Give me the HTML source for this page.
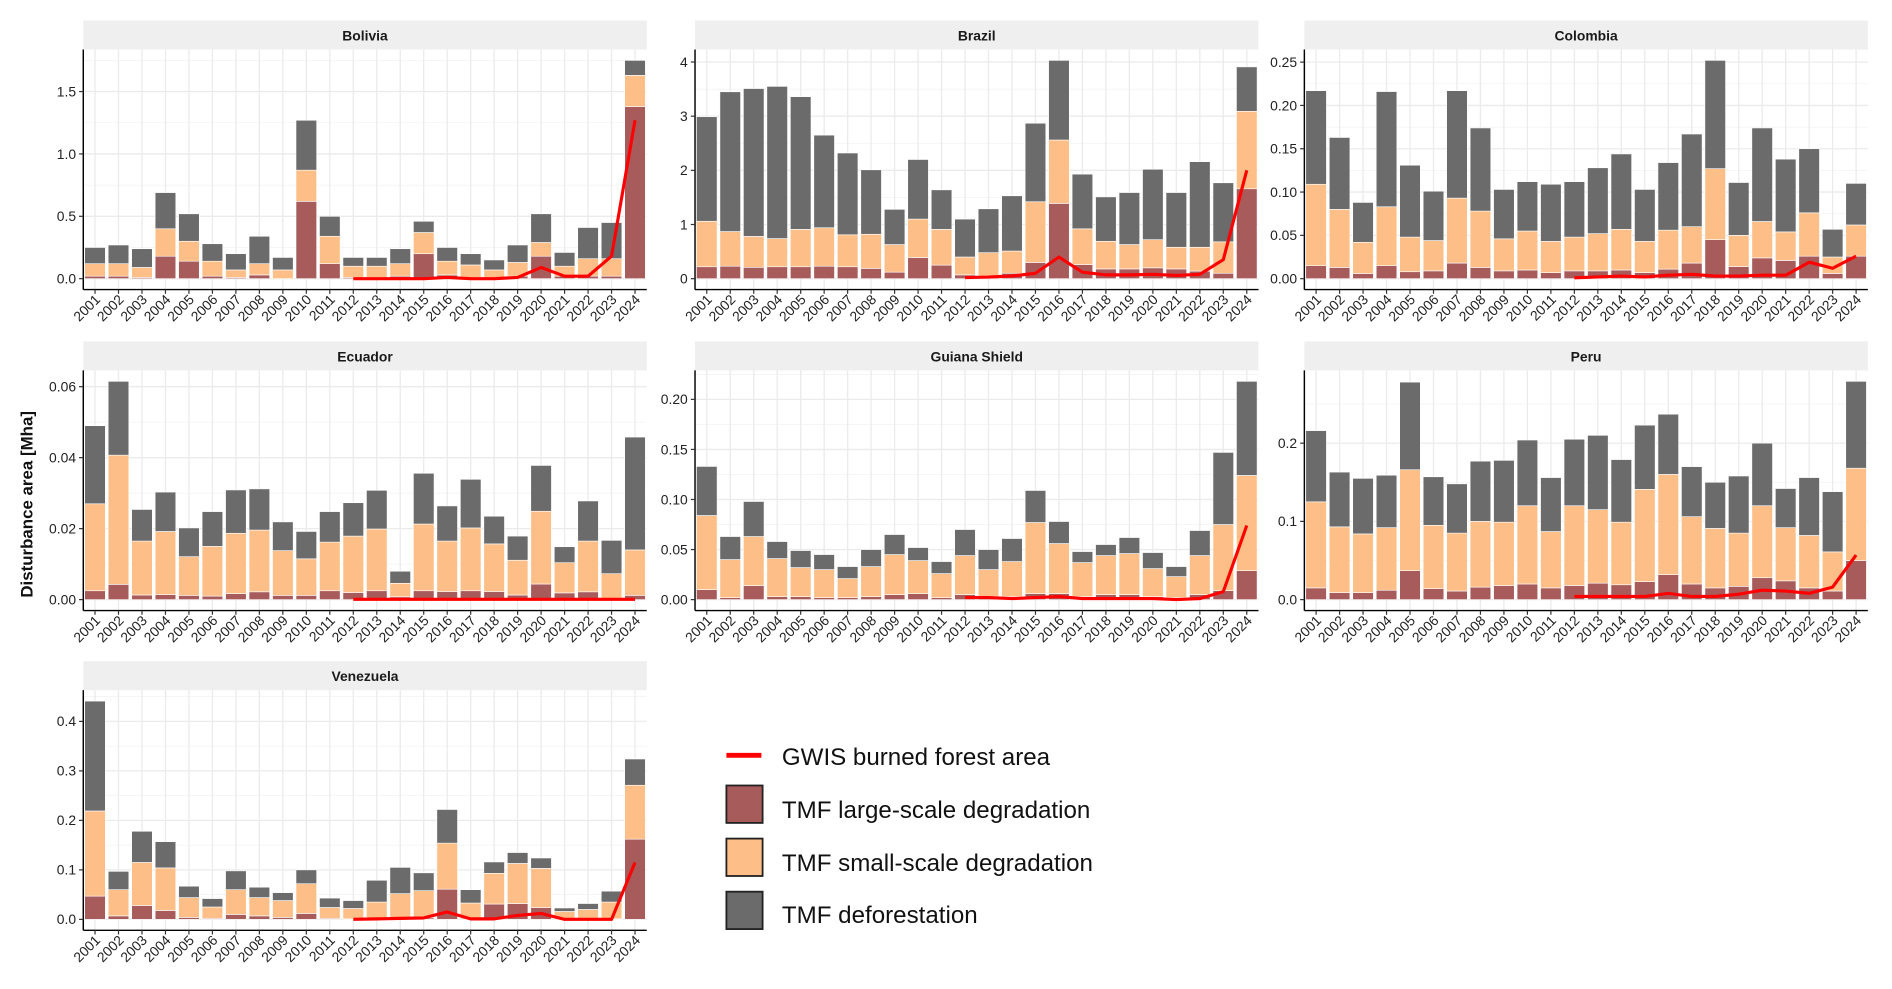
<!DOCTYPE html>
<html><head><meta charset="utf-8"><style>
html,body{margin:0;padding:0;background:#fff;}
svg{display:block;font-family:"Liberation Sans",Arial,sans-serif;}
</style></head><body>
<svg id="fig" width="1892" height="989" viewBox="0 0 1568 819.66" xmlns="http://www.w3.org/2000/svg">
<text transform="translate(27,418) rotate(-90)" text-anchor="middle" font-size="14" font-weight="bold" fill="#111">Disturbance area [Mha]</text>
<g id="panels"></g>
<g>
 <line x1="602" y1="626" x2="631" y2="626" stroke="#ff0000" stroke-width="4"/>
 <text x="648" y="634" font-size="20" fill="#111">GWIS burned forest area</text>
 <rect x="602" y="651" width="30" height="31" fill="#a85b5b" stroke="#222" stroke-width="1.5"/>
 <text x="648" y="678" font-size="20" fill="#111">TMF large-scale degradation</text>
 <rect x="602" y="695" width="30" height="31" fill="#fdbf87" stroke="#222" stroke-width="1.5"/>
 <text x="648" y="722" font-size="20" fill="#111">TMF small-scale degradation</text>
 <rect x="602" y="739" width="30" height="31" fill="#6b6b6b" stroke="#222" stroke-width="1.5"/>
 <text x="648" y="765" font-size="20" fill="#111">TMF deforestation</text>
</g>
</svg>
<script>
const years = ["2001","2002","2003","2004","2005","2006","2007","2008","2009","2010","2011","2012","2013","2014","2015","2016","2017","2018","2019","2020","2021","2022","2023","2024"];
const lineYears = ["2012","2013","2014","2015","2016","2017","2018","2019","2020","2021","2022","2023","2024"];
const regionNames = ["Bolivia","Brazil","Colombia","Ecuador","Guiana Shield","Peru","Venezuela"];

// cumulative stack tops: large-scale, large+small, total (incl. deforestation)
const boliviaLarge = [0.02,0.02,0.01,0.18,0.14,0.02,0.01,0.03,0.00,0.62,0.12,0.01,0.01,0.02,0.20,0.03,0.01,0.01,0.02,0.18,0.02,0.02,0.02,1.38];
const boliviaSmallTop = [0.12,0.12,0.09,0.40,0.30,0.14,0.07,0.12,0.07,0.87,0.34,0.10,0.10,0.12,0.37,0.14,0.11,0.07,0.13,0.29,0.10,0.16,0.16,1.63];
const boliviaTotal = [0.25,0.27,0.24,0.69,0.52,0.28,0.20,0.34,0.17,1.27,0.50,0.17,0.17,0.24,0.46,0.25,0.20,0.15,0.27,0.52,0.21,0.41,0.45,1.75];
const boliviaGwis = [0,0,0,0,0.01,0,0,0.01,0.09,0.02,0.02,0.18,1.27];

const brazilLarge = [0.22,0.23,0.21,0.22,0.22,0.23,0.22,0.19,0.12,0.39,0.25,0.07,0.05,0.10,0.30,1.39,0.26,0.18,0.18,0.20,0.18,0.14,0.10,1.66];
const brazilSmallTop = [1.06,0.87,0.78,0.74,0.91,0.94,0.81,0.82,0.63,1.10,0.91,0.40,0.48,0.51,1.42,2.56,0.92,0.69,0.63,0.72,0.58,0.58,0.68,3.09];
const brazilTotal = [2.99,3.45,3.51,3.55,3.36,2.65,2.32,2.01,1.28,2.20,1.64,1.10,1.29,1.53,2.87,4.03,1.93,1.51,1.59,2.02,1.59,2.16,1.77,3.91];
const brazilGwis = [0.02,0.03,0.05,0.10,0.40,0.12,0.07,0.07,0.08,0.06,0.08,0.35,2.00];

const colombiaLarge = [0.015,0.013,0.006,0.015,0.008,0.009,0.018,0.013,0.009,0.010,0.007,0.009,0.009,0.010,0.007,0.011,0.018,0.045,0.014,0.024,0.021,0.026,0.006,0.026];
const colombiaSmallTop = [0.109,0.080,0.042,0.083,0.048,0.044,0.093,0.078,0.046,0.055,0.043,0.048,0.052,0.057,0.043,0.056,0.060,0.127,0.050,0.066,0.054,0.076,0.025,0.062];
const colombiaTotal = [0.217,0.163,0.088,0.216,0.131,0.101,0.217,0.174,0.103,0.112,0.109,0.112,0.128,0.144,0.103,0.134,0.167,0.252,0.111,0.174,0.138,0.150,0.057,0.110];
const colombiaGwis = [0.001,0.002,0.003,0.002,0.004,0.005,0.003,0.003,0.004,0.004,0.019,0.012,0.026];

const ecuadorLarge = [0.0025,0.0043,0.0013,0.0014,0.0012,0.0010,0.0017,0.0022,0.0012,0.0012,0.0025,0.0020,0.0025,0.0008,0.0025,0.0023,0.0025,0.0023,0.0013,0.0044,0.0019,0.0022,0.0003,0.0012];
const ecuadorSmallTop = [0.0270,0.0407,0.0165,0.0192,0.0121,0.0150,0.0187,0.0196,0.0138,0.0115,0.0162,0.0179,0.0199,0.0046,0.0213,0.0165,0.0202,0.0157,0.0111,0.0249,0.0104,0.0165,0.0073,0.0140];
const ecuadorTotal = [0.0490,0.0615,0.0254,0.0303,0.0202,0.0248,0.0309,0.0312,0.0219,0.0192,0.0248,0.0273,0.0308,0.0080,0.0356,0.0264,0.0339,0.0235,0.0179,0.0378,0.0149,0.0278,0.0167,0.0458];
const ecuadorGwis = [0.0001,0.0001,0.0001,0.0001,0.0001,0.0001,0.0001,0.0001,0.0001,0.0001,0.0001,0.0001,0.0001];

const guianaLarge = [0.010,0.002,0.014,0.003,0.003,0.002,0.002,0.003,0.005,0.006,0.002,0.005,0.003,0.003,0.006,0.006,0.003,0.005,0.005,0.003,0.002,0.005,0.009,0.029];
const guianaSmallTop = [0.084,0.040,0.063,0.041,0.032,0.030,0.021,0.033,0.045,0.039,0.026,0.044,0.030,0.038,0.077,0.056,0.037,0.044,0.046,0.031,0.023,0.044,0.075,0.124];
const guianaTotal = [0.133,0.063,0.098,0.058,0.049,0.045,0.033,0.050,0.065,0.052,0.038,0.070,0.050,0.061,0.109,0.078,0.048,0.055,0.062,0.047,0.033,0.069,0.147,0.218];
const guianaGwis = [0.002,0.002,0.001,0.002,0.003,0.001,0.001,0.001,0.001,0.000,0.001,0.008,0.074];

const peruLarge = [0.015,0.009,0.009,0.012,0.037,0.014,0.011,0.016,0.018,0.020,0.015,0.018,0.021,0.019,0.023,0.032,0.020,0.015,0.017,0.028,0.024,0.015,0.011,0.050];
const peruSmallTop = [0.125,0.093,0.084,0.092,0.166,0.095,0.085,0.100,0.099,0.120,0.087,0.120,0.115,0.099,0.141,0.160,0.106,0.091,0.085,0.120,0.092,0.082,0.061,0.168];
const peruTotal = [0.216,0.163,0.155,0.159,0.278,0.157,0.148,0.177,0.178,0.204,0.156,0.205,0.210,0.179,0.223,0.237,0.170,0.150,0.158,0.200,0.142,0.156,0.138,0.279];
const peruGwis = [0.004,0.004,0.004,0.004,0.008,0.004,0.004,0.007,0.012,0.011,0.008,0.016,0.057];

const venezuelaLarge = [0.047,0.007,0.028,0.018,0.004,0.002,0.010,0.007,0.004,0.012,0.002,0.001,0.002,0.002,0.003,0.061,0.002,0.031,0.032,0.024,0.002,0.001,0.001,0.162];
const venezuelaSmallTop = [0.219,0.060,0.115,0.104,0.044,0.025,0.060,0.044,0.038,0.072,0.024,0.022,0.035,0.052,0.058,0.154,0.033,0.093,0.113,0.103,0.016,0.020,0.035,0.271];
const venezuelaTotal = [0.441,0.097,0.178,0.157,0.067,0.042,0.098,0.065,0.054,0.100,0.043,0.038,0.079,0.105,0.094,0.222,0.060,0.116,0.135,0.124,0.023,0.032,0.057,0.324];
const venezuelaGwis = [0,0.001,0.002,0.003,0.015,0.001,0.001,0.008,0.012,0,0,0,0.115];

const boliviaTicks = ["0.0","0.5","1.0","1.5"];
const brazilTicks = ["0","1","2","3","4"];
const colombiaTicks = ["0.00","0.05","0.10","0.15","0.20","0.25"];
const ecuadorTicks = ["0.00","0.02","0.04","0.06"];
const guianaTicks = ["0.00","0.05","0.10","0.15","0.20"];
const peruTicks = ["0.0","0.1","0.2"];
const venezuelaTicks = ["0.0","0.1","0.2","0.3","0.4"];

const NS = "http://www.w3.org/2000/svg";
const root = document.getElementById("panels");
function mk(tag, attrs, parent){
  const e = document.createElementNS(NS, tag);
  for (const k in attrs) e.setAttribute(k, attrs[k]);
  parent.appendChild(e);
  return e;
}
const cols = [69, 576, 1081];
const rows = [17, 283, 548];
const PW = 467;
const panels = [
  [boliviaLarge, boliviaSmallTop, boliviaTotal, boliviaGwis, boliviaTicks, 0, 0],
  [brazilLarge, brazilSmallTop, brazilTotal, brazilGwis, brazilTicks, 1, 0],
  [colombiaLarge, colombiaSmallTop, colombiaTotal, colombiaGwis, colombiaTicks, 2, 0],
  [ecuadorLarge, ecuadorSmallTop, ecuadorTotal, ecuadorGwis, ecuadorTicks, 0, 1],
  [guianaLarge, guianaSmallTop, guianaTotal, guianaGwis, guianaTicks, 1, 1],
  [peruLarge, peruSmallTop, peruTotal, peruGwis, peruTicks, 2, 1],
  [venezuelaLarge, venezuelaSmallTop, venezuelaTotal, venezuelaGwis, venezuelaTicks, 0, 2]
];
panels.forEach((p, pi) => {
  const [large, smallTop, total, gwis, ticks, c, r] = p;
  const x0 = cols[c], top = rows[r];
  const py0 = top + 24, py1 = top + 223;
  const g = mk("g", {}, root);
  
  
  const strip = mk("rect", {x:x0, y:top, width:PW, height:24, fill:"#efefef"}, g);
  
  
  const st = mk("text", {x:x0+PW/2, y:top+16.5, "text-anchor":"middle", "font-size":"11.5", "font-weight":"bold", fill:"#1a1a1a"}, g);
  st.textContent = regionNames[pi];
  
  
  const tickVals = ticks.map(Number);
  let maxV = Math.max(...total, ...gwis, 0);
  const lo = -0.05*maxV, hi = 1.05*maxV;
  const y = v => py1 - (v - lo)/(hi - lo)*(py1 - py0);
  const band = PW/years.length;
  const xc = i => x0 + (i+0.5)*band;
  // grid
  const step = tickVals[1]-tickVals[0];
  for (let k = 0; k <= tickVals.length; k++) {
    const vm = tickVals[0] + (k-0.5)*step;
    if (vm > lo && vm < hi) {
      const gl = mk("line", {x1:x0, x2:x0+PW, y1:y(vm), y2:y(vm), stroke:"#f2f2f2", "stroke-width":"0.6"}, g);
      
      
    }
  }
  tickVals.forEach(v => {
    const gl = mk("line", {x1:x0, x2:x0+PW, y1:y(v), y2:y(v), stroke:"#ebebeb", "stroke-width":"1.1"}, g);
    
    
  });
  years.forEach((yr, i) => {
    const gl = mk("line", {x1:xc(i), x2:xc(i), y1:py0, y2:py1, stroke:"#ebebeb", "stroke-width":"1.1"}, g);
    
    
  });
  // bars
  const bw = band*0.88;
  years.forEach((yr, i) => {
    const segs = [[0, large[i], "#a85b5b", "large"], [large[i], smallTop[i], "#fdbf87", "small"], [smallTop[i], total[i], "#6b6b6b", "defor"]];
    segs.forEach(s => {
      const yt = y(Math.max(s[0], s[1])), yb = y(s[0]);
      const b = mk("rect", {x:xc(i)-bw/2, y:yt, width:bw, height:Math.max(0, yb-yt), fill:s[2], stroke:"#ffffff", "stroke-width":"0.5"}, g);
      
      
    });
  });
  // line
  const pts = lineYears.map((yr, j) => xc(years.indexOf(yr)).toFixed(2) + "," + y(gwis[j]).toFixed(2)).join(" ");
  const pl = mk("polyline", {points:pts, fill:"none", stroke:"#ff0000", "stroke-width":"2.6", "stroke-linejoin":"round"}, g);
  
  
  // axes
  const ya = mk("line", {x1:x0, x2:x0, y1:py0, y2:py1, stroke:"#000", "stroke-width":"1.2"}, g);
  
  
  const xa = mk("line", {x1:x0, x2:x0+PW, y1:py1, y2:py1, stroke:"#000", "stroke-width":"1.2"}, g);
  
  
  tickVals.forEach((v, k) => {
    mk("line", {x1:x0-3.5, x2:x0, y1:y(v), y2:y(v), stroke:"#333", "stroke-width":"1"}, g);
    const t = mk("text", {x:x0-6, y:y(v)+4, "text-anchor":"end", "font-size":"11.5", fill:"#222"}, g);
    t.textContent = ticks[k];
    
    
  });
  years.forEach((yr, i) => {
    mk("line", {x1:xc(i), x2:xc(i), y1:py1, y2:py1+3.5, stroke:"#333", "stroke-width":"1"}, g);
    const t = mk("text", {"text-anchor":"end", "font-size":"11.5", fill:"#222", transform:"translate(" + (xc(i)+5).toFixed(2) + "," + (py1+9) + ") rotate(-45)"}, g);
    t.textContent = yr;
    
    
  });
});
</script>
</body></html>
